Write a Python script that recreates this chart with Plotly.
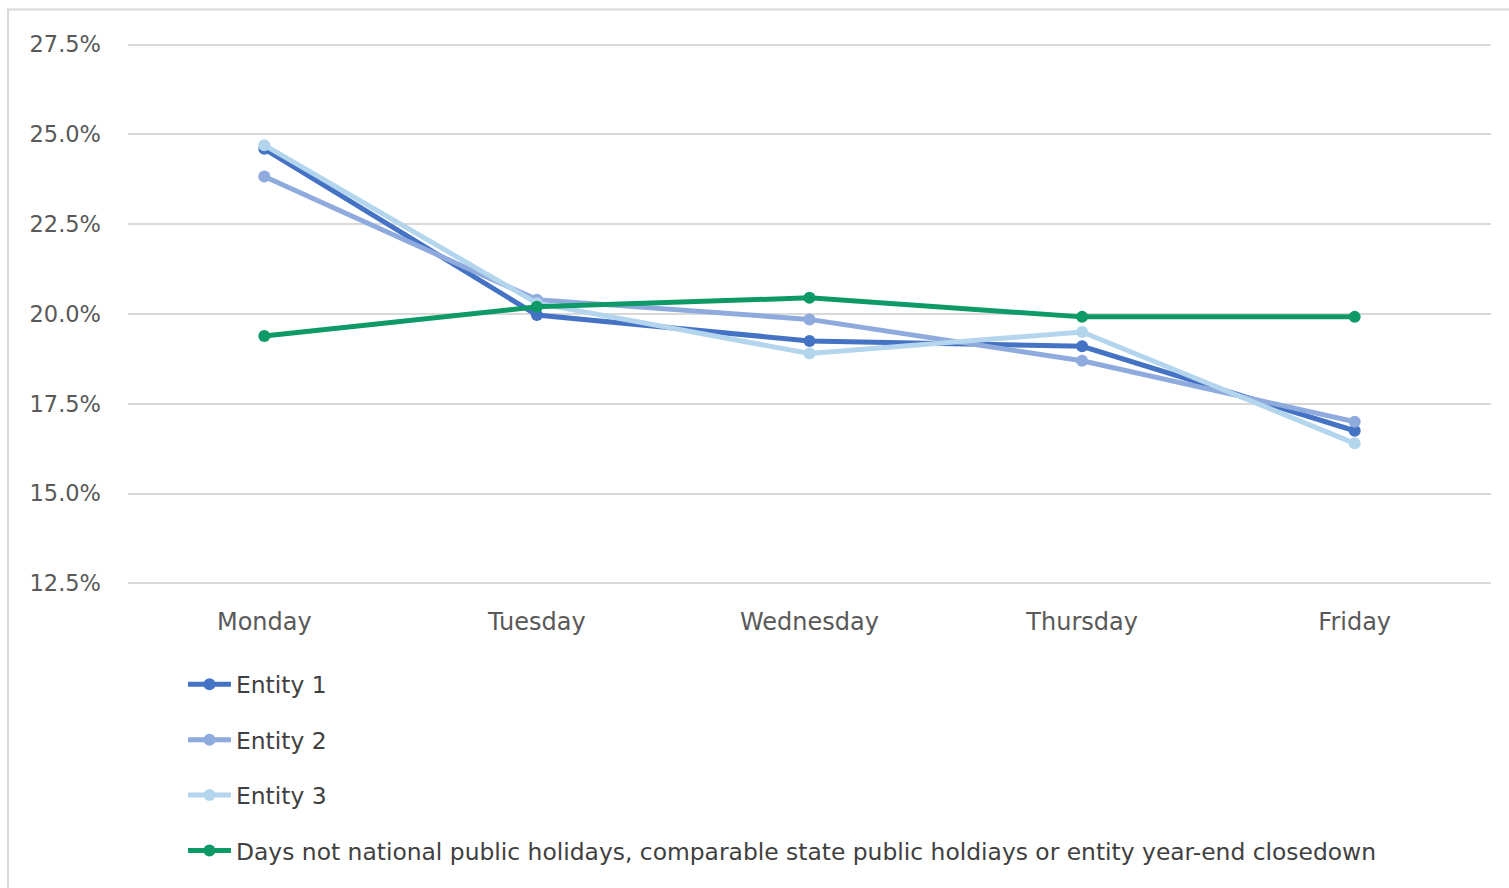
import plotly.graph_objects as go

days = ["Monday", "Tuesday", "Wednesday", "Thursday", "Friday"]
entity1 = [24.6, 19.97, 19.25, 19.1, 16.75]
entity2 = [23.83, 20.4, 19.85, 18.7, 17.0]
entity3 = [24.7, 20.3, 18.9, 19.5, 16.4]
baseline = [19.39, 20.2, 20.45, 19.92, 19.92]

names = ["Entity 1", "Entity 2", "Entity 3",
         "Days not national public holidays, comparable state public holdiays or entity year-end closedown"]
colors = ["#4472C4", "#8FAADC", "#B4D5EE", "#0E9A66"]
series = [entity1, entity2, entity3, baseline]

fig = go.Figure()
for i, (nm, col, vals) in enumerate(zip(names, colors, series)):
    fig.add_trace(go.Scatter(
        x=days, y=vals, name=nm, mode="lines+markers",
        line=dict(color=col, width=5),
        marker=dict(color=col, size=12, symbol="circle"),
        legendgroup=f"g{i}",
    ))

W, H = 1509, 888
# 27.5% sits at y=45px and 12.5% at y=583px; range padded by 0.1 so edge gridlines show
Y0, Y1 = 12.4, 27.6
pxu = (583 - 45) / 15.0
T = 45 - (Y1 - 27.5) * pxu
Bpx = 583 + (12.5 - Y0) * pxu
L, R = 128, 18
B = H - Bpx
pw, ph = W - L - R, Bpx - T

def px_x(p):
    return (p - L) / pw

def px_y(p):
    return (Bpx - p) / ph

font_family = "DejaVu Sans, Verdana, sans-serif"

fig.update_layout(
    width=W, height=H,
    margin=dict(l=L, r=R, t=T, b=B),
    paper_bgcolor="white", plot_bgcolor="white",
    font=dict(family=font_family, color="#595959", size=22),
    showlegend=True,
    legend=dict(
        orientation="v",
        x=px_x(183), y=px_y(662), xanchor="left", yanchor="top",
        font=dict(size=23.4, color="#404040"),
        tracegroupgap=22,
        bgcolor="rgba(0,0,0,0)",
        itemwidth=43,
    ),
    xaxis=dict(
        type="category", range=[-0.5, 4.5],
        showgrid=False, zeroline=False, showline=False,
        ticks="", tickfont=dict(size=24, color="#595959"),
        ticklabelstandoff=18,
    ),
    yaxis=dict(
        range=[Y0, Y1], dtick=2.5, tick0=12.5,
        tickformat=".1f", ticksuffix="%",
        showgrid=True, gridcolor="#D9D9D9", gridwidth=1.5,
        zeroline=False, showline=False, ticks="",
        tickfont=dict(size=22.5, color="#595959"),
        ticklabelstandoff=26,
    ),
    shapes=[dict(
        type="rect", xref="paper", yref="paper",
        x0=px_x(8), x1=px_x(1520), y0=px_y(900), y1=px_y(10),
        line=dict(color="#D9D9D9", width=2), fillcolor="rgba(0,0,0,0)",
        layer="below",
    )],
)

fig.write_html("out.html")
